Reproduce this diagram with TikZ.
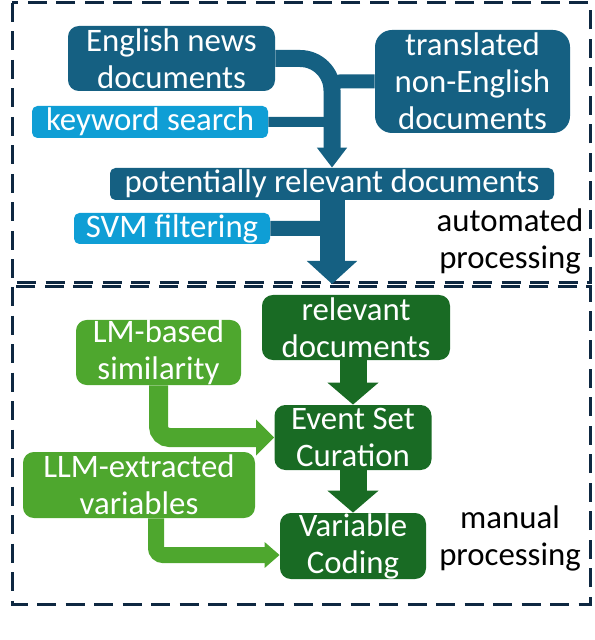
\documentclass[tikz,border=0pt]{standalone}
\usepackage{fontspec}
\setmainfont{Carlito}
\usepackage{tikz}
\usetikzlibrary{arrows.meta}

\definecolor{docblue}{HTML}{156082}
\definecolor{searchblue}{HTML}{0F9ED5}
\definecolor{manualgreen}{HTML}{196B24}
\definecolor{modelgreen}{HTML}{4EA72E}
\definecolor{framenavy}{HTML}{0E2841}

\newcommand{\boxfont}{\fontsize{16.4}{18.5}\selectfont}

\tikzset{
	flowbox/.style={rectangle, inner sep=0pt, align=center, text=white, font=\boxfont},
	onerow/.style={flowbox, minimum height=16pt, rounded corners=2.7pt},
	tworow/.style={flowbox, minimum height=32.5pt, rounded corners=5.4pt},
	phaseframe/.style={draw=framenavy, line width=1.5pt, dash pattern=on 9.5pt off 4.75pt},
}

\begin{document}
\begin{tikzpicture}[x=0.5pt,y=-0.5pt]
		\useasboundingbox (0,0) rectangle (594,640);
%		\draw[help lines,step=50] (0,0) grid (594,640);
		\path (12,3) coordinate (auto_tl);
		\path (590,283) coordinate (auto_br);
		\path (12,287) coordinate (man_tl);
		\path (590,604) coordinate (man_br);
		\path (332,120) coordinate (trans_join);
		\path (332,145) coordinate (kw_join);
		\path (332,255) coordinate (svm_join);
		\path (332,284) coordinate (gate);

		% automated part
		\path (171.5,58.5) node(english) [tworow,fill=docblue,minimum width=103.5pt] {English news\\documents};
		\path (472.5,81.5) node(translated) [flowbox,fill=docblue,minimum width=97.5pt,minimum height=51.5pt,rounded corners=8.5pt] {translated\\non-English\\documents};
		\path (150,122) node(keyword) [onerow,fill=searchblue,minimum width=118pt] {keyword search};
		\path (332,184) node(potential) [onerow,fill=docblue,minimum width=222pt] {potentially relevant documents};
		\path (172,228.5) node(svm) [onerow,fill=searchblue,minimum width=98pt,minimum height=15.5pt] {SVM filtering};
		\path (510,241) node(auto_label) [align=center,font=\boxfont] {automated\\processing};

		% manual part
		\path (356,327.5) node(relevant) [tworow,fill=manualgreen,minimum width=94pt] {relevant\\documents};
		\path (158.5,352.5) node(similarity) [tworow,fill=modelgreen,minimum width=82.5pt] {LM-based\\similarity};
		\path (353,437.5) node(event) [tworow,fill=manualgreen,minimum width=78.5pt] {Event Set\\Curation};
		\path (139,485) node(extracted) [tworow,fill=modelgreen,minimum width=116pt,minimum height=33pt] {LLM-extracted\\variables};
		\path (353,546) node(variable) [tworow,fill=manualgreen,minimum width=73pt,minimum height=33pt] {Variable\\Coding};
		\path (510,538) node(man_label) [align=center,font=\boxfont] {manual\\processing};

		\draw[phaseframe] (auto_tl) rectangle (auto_br);
		\draw[phaseframe] (man_tl) rectangle (man_br);

		\draw[docblue,line width=8.5pt,rounded corners=16pt,-{Triangle[width=14.5pt,length=10pt]}] (english.east) -| (potential.north);
		\draw[docblue,line width=7pt,rounded corners=4pt] (translated.west) -| (trans_join);
		\draw[docblue,line width=5pt,rounded corners=4pt] (keyword.east) -| (kw_join);
		\draw[docblue,line width=7.5pt,rounded corners=4pt] (svm.east) -| (svm_join);
		\draw[docblue,line width=12.5pt,-{Triangle[width=24.5pt,length=11.5pt]}] (potential.south) -- (gate);

		\draw[manualgreen,line width=13.5pt,-{Triangle[width=25pt,length=11pt]}] (relevant.south -| event.north) -- (event.north);
		\draw[manualgreen,line width=13.5pt,-{Triangle[width=25pt,length=11pt]}] (event.south) -- (variable.north);
		\draw[modelgreen,line width=9.5pt,rounded corners=5.5pt,-{Triangle[width=17.5pt,length=9pt]}] (similarity.south) |- (event.west);
		\draw[modelgreen,line width=8pt,rounded corners=3.5pt,-{Triangle[width=12.5pt,length=7.5pt]}] ([xshift=8.5pt]extracted.south) |- ([yshift=-4.5pt]variable.west);
	\end{tikzpicture}
\end{document}
